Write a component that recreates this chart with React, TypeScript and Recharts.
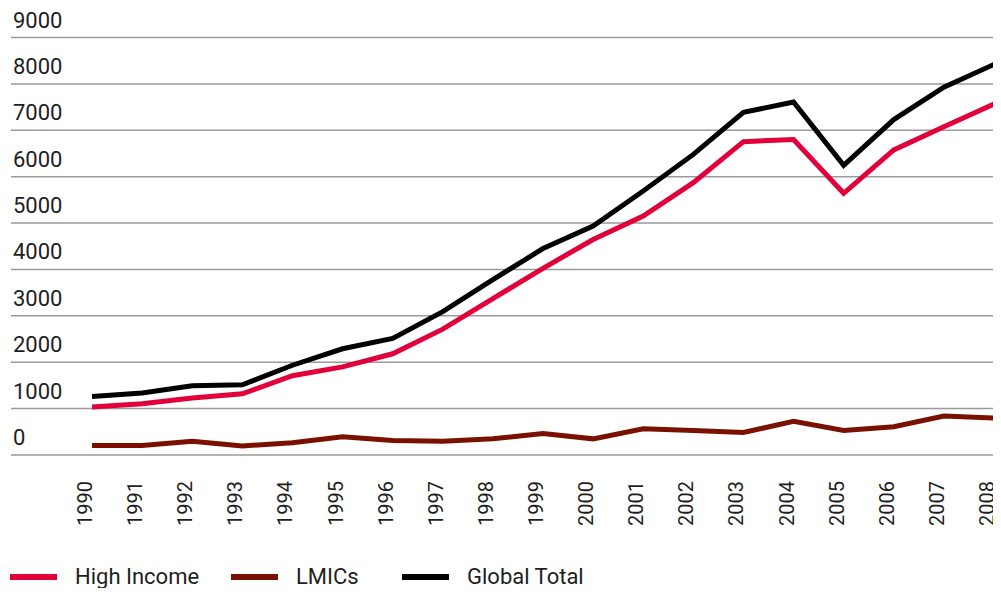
import { LineChart, Line, XAxis, YAxis, CartesianGrid, Legend } from "recharts";

const years = [
  "1990", "1991", "1992", "1993", "1994", "1995", "1996", "1997", "1998", "1999",
  "2000", "2001", "2002", "2003", "2004", "2005", "2006", "2007", "2008",
];
const highIncome = [
  1036, 1107, 1230, 1320, 1710, 1900, 2182, 2713, 3370, 4025,
  4645, 5150, 5870, 6755, 6800, 5642, 6576, 7078, 7568,
];
const lmics = [
  204, 204, 297, 195, 266, 392, 312, 297, 348, 462,
  348, 565, 530, 487, 725, 530, 610, 840, 795,
];
const globalTotal = [
  1262, 1337, 1494, 1512, 1935, 2290, 2515, 3090, 3780, 4450,
  4934, 5690, 6480, 7385, 7610, 6246, 7230, 7930, 8420,
];
const yTicks = [0, 1000, 2000, 3000, 4000, 5000, 6000, 7000, 8000, 9000];

const series = [
  { key: "highIncome", name: "High Income", color: "#E2003A" },
  { key: "lmics", name: "LMICs", color: "#7A1100" },
  { key: "globalTotal", name: "Global Total", color: "#000000" },
];

const data = years.map((year, i) => ({
  year,
  highIncome: highIncome[i],
  lmics: lmics[i],
  globalTotal: globalTotal[i],
}));

const FONT = "Roboto, 'Noto Sans', sans-serif";
const TEXT = "#1e1e1e";

// y labels sit just above their gridline, flush with the left edge
const YTick = (props: any) => {
  const { y, payload } = props;
  return (
    <text x={5} y={y - 10} textAnchor="start" fill={TEXT} fontSize={22} fontFamily={FONT}>
      {payload.value}
    </text>
  );
};

const XTick = (props: any) => {
  const { x, y, payload } = props;
  return (
    <g transform={`translate(${x},${y + 18})`}>
      <text transform="rotate(-90)" textAnchor="end" x={0} y={0} fill={TEXT} fontSize={20} fontFamily={FONT}>
        {payload.value}
      </text>
    </g>
  );
};

const itemWidths = [221, 171, 200];

const LegendContent = () => (
  <div style={{ height: 60, display: "flex", alignItems: "flex-end", fontFamily: FONT }}>
    {series.map((s, i) => (
      <div key={s.key} style={{ width: itemWidths[i], display: "flex", alignItems: "center", height: 22 }}>
        <span style={{ display: "inline-block", width: 47, height: 6, background: s.color, marginRight: 18 }} />
        <span style={{ fontSize: 22, color: TEXT, lineHeight: "22px" }}>{s.name}</span>
      </div>
    ))}
  </div>
);

export default function App() {
  return (
    <div style={{ width: 993, height: 580, fontFamily: FONT }}>
      <LineChart width={993} height={580} data={data} margin={{ top: 29.5, right: 7, bottom: 0, left: 2 }}>
        <CartesianGrid vertical={false} stroke="#9a9a9a" strokeWidth={1.5} />
        <XAxis
          dataKey="year"
          axisLine={false}
          tickLine={false}
          interval={0}
          height={73}
          padding={{ left: 81, right: 0 }}
          tick={<XTick />}
        />
        <YAxis
          domain={[0, 9000]}
          ticks={yTicks}
          width={1}
          axisLine={false}
          tickLine={false}
          tick={<YTick />}
          interval={0}
        />
        <Legend verticalAlign="bottom" align="left" height={60} content={<LegendContent />} />
        {series.map((s) => (
          <Line
            key={s.key}
            dataKey={s.key}
            name={s.name}
            stroke={s.color}
            strokeWidth={5}
            dot={false}
            activeDot={false}
            isAnimationActive={false}
          />
        ))}
      </LineChart>
    </div>
  );
}
